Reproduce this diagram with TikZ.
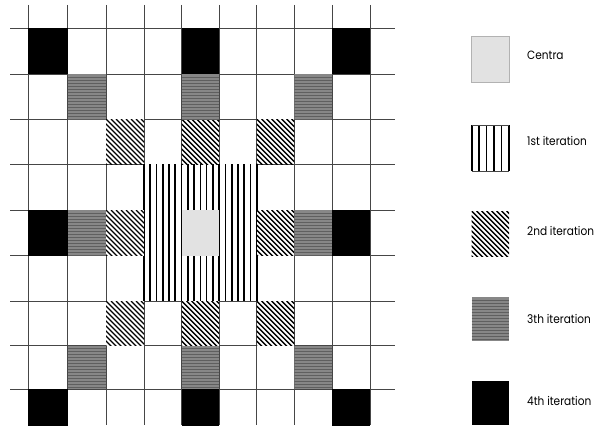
\documentclass[tikz,border=0pt]{standalone}
\usepackage{fontspec}
\setmainfont{Poppins}
\definecolor{centragray}{RGB}{226,226,226}
\definecolor{hgray}{RGB}{135,135,135}
\definecolor{hdark}{RGB}{95,95,95}
\definecolor{gridcol}{RGB}{70,70,70}
\tikzset{
  gridline/.style={draw=gridcol,line width=1pt},
  vstripe/.style={draw=black,line width=1.7pt},
  dstripe/.style={draw=black,line width=1.4pt},
  hstripe/.style={draw=hdark,line width=0.7pt},
  legendlabel/.style={anchor=west,inner sep=0pt,font=\fontsize{12}{13}\selectfont},
}
\def\XS{{28.3,67.7,106,144,181.7,219,256.7,294.3,332.3,370}}
\def\YS{{5,28.3,74.3,119,164.3,210,255.7,301,345.7,389,434}}
% pattern macros: #1 x0, #2 y0, #3 x1, #4 y1
\newcommand\patBlack[4]{\fill[black] (#1,#2) rectangle (#3,#4);}
\newcommand\patCentra[4]{\fill[centragray] (#1,#2) rectangle (#3,#4);}
\newcommand\patHoriz[4]{%
  \begin{scope}
    \clip (#1,#2) rectangle (#3,#4);
    \fill[hgray] (#1,#2) rectangle (#3,#4);
    \foreach \k in {1,...,15}{\draw[hstripe] (#1,{#2+\k*3}) -- (#3,{#2+\k*3});}
  \end{scope}}
\newcommand\patDiag[4]{%
  \begin{scope}
    \clip (#1,#2) rectangle (#3,#4);
    \fill[white] (#1,#2) rectangle (#3,#4);
    \foreach \t in {-55,-50,...,45}{\draw[dstripe] ({#1+\t},#2) -- ({#1+\t+55},{#2+55});}
  \end{scope}}
\newcommand\gcell[3]{% #1 pattern, #2 column, #3 row
  \pgfmathsetmacro\cxa{\XS[#2]}\pgfmathsetmacro\cxb{\XS[#2+1]}%
  \pgfmathsetmacro\cya{\YS[#3]}\pgfmathsetmacro\cyb{\YS[#3+1]}%
  #1{\cxa}{\cya}{\cxb}{\cyb}}
\begin{document}
\begin{tikzpicture}[x=1pt,y=-1pt]
\useasboundingbox (0,0) rectangle (596,425);
\clip (0,0) rectangle (596,425);
\fill[white] (0,0) rectangle (596,425);
% grid
\foreach \i in {0,...,9}{\pgfmathsetmacro\gx{\XS[\i]}\draw[gridline] (\gx,5) -- (\gx,425);}
\foreach \j in {1,...,9}{\pgfmathsetmacro\gy{\YS[\j]}\draw[gridline] (10,\gy) -- (395,\gy);}
% 1st iteration block
\begin{scope}
  \fill[white] (144,164.3) rectangle (256.7,301);
  \foreach \k in {0,...,18}{\draw[vstripe] ({144+\k*112.7/18},164.3) -- ({144+\k*112.7/18},301);}
\end{scope}
% centre
\gcell{\patCentra}{4}{5}
% 2nd iteration
\foreach \c/\r in {2/3,4/3,6/3,2/5,6/5,2/7,4/7,6/7}{\gcell{\patDiag}{\c}{\r}}
% 3th iteration
\foreach \c/\r in {1/2,4/2,7/2,1/5,7/5,1/8,4/8,7/8}{\gcell{\patHoriz}{\c}{\r}}
% 4th iteration
\foreach \c/\r in {0/1,4/1,8/1,0/5,8/5,0/9,4/9,8/9}{\gcell{\patBlack}{\c}{\r}}
% legend
\patCentra{471.7}{36}{509}{82}
\draw[draw=gray!60,line width=0.6pt] (471.7,36) rectangle (509,82);
\fill[white] (471.7,125) rectangle (509,171);
\foreach \k in {0,...,5}{\draw[vstripe] ({471.7+\k*37.3/5},125) -- ({471.7+\k*37.3/5},171);}
\draw[draw=gridcol,line width=0.6pt] (471.7,125) -- (509,125) (471.7,171) -- (509,171);
\patDiag{471.7}{211}{509}{256}
\patHoriz{471.7}{297}{509}{341}
\patBlack{471.7}{381}{509}{425}
\node[legendlabel] (lc) at (527,55) {\scalebox{0.88}[1]{Centra}};
\node[legendlabel] (l1) at (527,141) {\scalebox{0.88}[1]{1st iteration}};
\node[legendlabel] (l2) at (527,231) {\scalebox{0.88}[1]{2nd iteration}};
\node[legendlabel] (l3) at (527,319) {\scalebox{0.88}[1]{3th iteration}};
\node[legendlabel] (l4) at (527,401) {\scalebox{0.88}[1]{4th iteration}};
\end{tikzpicture}
\end{document}
